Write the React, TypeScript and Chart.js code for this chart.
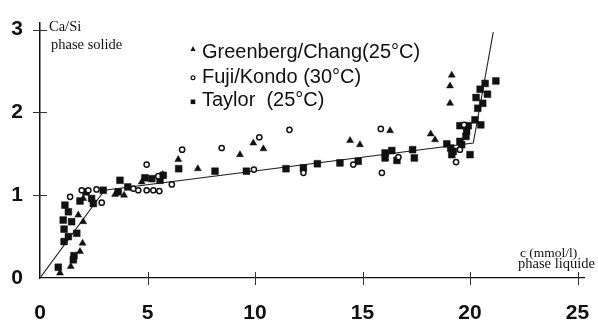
import { useEffect, useRef } from "react";
import { Chart, registerables } from "chart.js";

Chart.register(...registerables);

// ---- Data ----
const xTickValues = [0, 5, 10, 15, 20, 25];
const yTickValues = [0, 1, 2, 3];

const legendLabels = ["Greenberg/Chang(25°C)", "Fuji/Kondo (30°C)", "Taylor  (25°C)"];
const yTitleLines = ["Ca/Si", "phase solide"];
const xTitleLines = ["c (mmol/l)", "phase liquide"];

// Greenberg/Chang (25°C) – filled triangles  [c, Ca/Si]
const greenbergPoints: [number, number][] = [
  [0.93, 0.06], [1.43, 0.14], [1.86, 0.32], [1.98, 0.42], [1.78, 0.76], [2.01, 0.68],
  [2.01, 0.96], [3.49, 1.01], [3.91, 1.0], [4.73, 1.16], [5.71, 1.25], [6.43, 1.43],
  [7.34, 1.32], [9.3, 1.49], [9.92, 1.63], [10.39, 1.56], [14.42, 1.66], [14.88, 1.61],
  [16.28, 1.78], [18.17, 1.74], [18.37, 1.67], [19.07, 2.11], [19.07, 2.32], [19.15, 2.45],
];

// Fuji/Kondo (30°C) – open circles
const fujiPoints: [number, number][] = [
  [1.4, 0.98], [1.94, 1.06], [2.25, 1.06], [2.63, 1.07], [2.87, 0.91], [4.34, 1.08],
  [4.57, 1.06], [4.96, 1.06], [5.27, 1.06], [5.55, 1.05], [6.13, 1.13], [5.5, 1.23],
  [4.96, 1.37], [6.61, 1.55], [8.45, 1.57], [10.2, 1.7], [11.6, 1.79], [9.95, 1.31],
  [12.25, 1.27], [14.57, 1.37], [15.85, 1.8], [15.9, 1.27], [16.67, 1.46], [19.35, 1.4],
  [19.72, 1.85], [19.53, 1.55],
];

// Taylor (25°C) – filled squares
const taylorPoints: [number, number][] = [
  [0.85, 0.13], [1.12, 0.44], [1.32, 0.5], [1.12, 0.59], [1.08, 0.7], [1.47, 0.68],
  [1.71, 0.54], [1.32, 0.8], [1.16, 0.88], [1.55, 0.22], [1.58, 0.27], [1.86, 0.93],
  [2.14, 1.04], [2.4, 0.96], [2.48, 0.9], [2.94, 1.06], [3.64, 1.04], [3.72, 1.18],
  [4.08, 1.1], [4.88, 1.21], [5.2, 1.2], [5.58, 1.18], [5.73, 1.24], [6.45, 1.32],
  [8.14, 1.29], [9.6, 1.29], [11.44, 1.32], [12.25, 1.33], [12.9, 1.38], [13.95, 1.39],
  [14.8, 1.41], [16.05, 1.51], [16.05, 1.45], [16.36, 1.54], [16.6, 1.42], [17.33, 1.55],
  [17.41, 1.45], [18.92, 1.62], [19.1, 1.57], [19.22, 1.53], [19.15, 1.49], [19.61, 1.61],
  [19.53, 1.65], [19.53, 1.84], [19.92, 1.84], [19.84, 1.77], [19.81, 1.71], [20.0, 1.49],
  [20.23, 1.91], [20.5, 1.85], [20.36, 2.05], [20.59, 2.11], [20.28, 2.18], [20.81, 2.22],
  [20.47, 2.28], [20.7, 2.35], [21.2, 2.38],
];

// Fitted line (piecewise)
const fitLine: [number, number][] = [
  [0, 0], [3.0, 1.06], [20.15, 1.63], [21.08, 2.97],
];

const toXY = (pts: [number, number][]) => pts.map(([x, y]) => ({ x, y }));

const INK = "#111";

const decorations = {
  id: "decorations",
  afterDraw(chart: any) {
    const { ctx } = chart;
    const xs = chart.scales.x;
    const ys = chart.scales.y;
    ctx.save();

    // tick marks crossing the axes
    ctx.strokeStyle = "#333";
    ctx.lineWidth = 1;
    const y0 = ys.getPixelForValue(0);
    const x0 = xs.getPixelForValue(0);
    xs.ticks.forEach((t: any) => {
      if (t.value === 0) return;
      const px = Math.round(xs.getPixelForValue(t.value)) + 0.5;
      ctx.beginPath();
      ctx.moveTo(px, y0 - 6);
      ctx.lineTo(px, y0 + 7);
      ctx.stroke();
    });
    ys.ticks.forEach((t: any) => {
      if (t.value === 0) return;
      const py = Math.round(ys.getPixelForValue(t.value)) + 0.5;
      ctx.beginPath();
      ctx.moveTo(x0 - 7, py);
      ctx.lineTo(x0 + 7, py);
      ctx.stroke();
    });

    // axis titles
    ctx.fillStyle = INK;
    ctx.textAlign = "left";
    ctx.textBaseline = "alphabetic";
    ctx.font = '14.5px "Liberation Serif", "Times New Roman", serif';
    ctx.fillText(yTitleLines[0], 49, 30.5);
    ctx.fillText(yTitleLines[1], 51, 48.5);
    ctx.font = '13.5px "Liberation Serif", "Times New Roman", serif';
    ctx.fillText(xTitleLines[0], 520, 257);
    ctx.font = '14.5px "Liberation Serif", "Times New Roman", serif';
    ctx.fillText(xTitleLines[1], 518, 268);

    // legend
    const lx = 193;
    const rows = [52.7, 77.3, 100.5];
    ctx.font = '20px "Liberation Sans", Arial, sans-serif';
    ctx.textBaseline = "middle";
    legendLabels.forEach((label, i) => {
      ctx.fillText(label, 202, rows[i]);
    });
    ctx.fillStyle = INK;
    ctx.strokeStyle = INK;
    ctx.beginPath();
    ctx.moveTo(lx, 46);
    ctx.lineTo(lx + 2.6, 51);
    ctx.lineTo(lx - 2.6, 51);
    ctx.closePath();
    ctx.fill();
    ctx.lineWidth = 1.2;
    ctx.beginPath();
    ctx.arc(lx, 77.7, 1.9, 0, Math.PI * 2);
    ctx.stroke();
    ctx.fillRect(lx - 2.3, 99.5, 4.6, 4.6);
    ctx.restore();
  },
};

export default function App() {
  const canvasRef = useRef<HTMLCanvasElement | null>(null);

  useEffect(() => {
    document.body.style.margin = "0";
    const canvas = canvasRef.current;
    if (!canvas) return;
    const chart = new Chart(canvas, {
      type: "scatter",
      data: {
        datasets: [
          { label: legendLabels[0], data: toXY(greenbergPoints), pointStyle: "triangle", pointRadius: 4, backgroundColor: INK, borderColor: INK, borderWidth: 0.5 },
          { label: legendLabels[1], data: toXY(fujiPoints), pointStyle: "circle", pointRadius: 2.6, backgroundColor: "#fff", borderColor: INK, borderWidth: 1.5 },
          { label: legendLabels[2], data: toXY(taylorPoints), pointStyle: "rect", pointRadius: 4.8, backgroundColor: INK, borderColor: INK, borderWidth: 0.5 },
          { label: "fit", data: toXY(fitLine), showLine: true, pointRadius: 0, borderColor: "#222", borderWidth: 1.1, fill: false } as any,
        ],
      },
      options: {
        animation: false,
        responsive: false,
        events: [],
        layout: { padding: { top: 23, right: 14, left: 0, bottom: 0 }, autoPadding: false },
        plugins: { legend: { display: false }, tooltip: { enabled: false }, title: { display: false } },
        scales: {
          x: {
            type: "linear", min: 0, max: 25.3,
            afterFit: (s: any) => { s.height = 42; },
            afterBuildTicks: (s: any) => { s.ticks = xTickValues.map((v) => ({ value: v })); },
            grid: { display: false, drawTicks: true, tickLength: 23 },
            border: { display: true, color: INK, width: 1.2 },
            ticks: { padding: 0, color: INK, font: { family: '"Liberation Sans", Arial, sans-serif', size: 21, weight: "bold" }, maxRotation: 0 },
          },
          y: {
            type: "linear", min: 0, max: 3.08,
            afterFit: (s: any) => { s.width = 40; },
            afterBuildTicks: (s: any) => { s.ticks = yTickValues.map((v) => ({ value: v })); },
            grid: { display: false, drawTicks: true, tickLength: 17 },
            border: { display: true, color: INK, width: 1.5 },
            ticks: { padding: 0, color: INK, font: { family: '"Liberation Sans", Arial, sans-serif', size: 21, weight: "bold" } },
          },
        },
      },
      plugins: [decorations],
    });
    return () => chart.destroy();
  }, []);

  return (
    <div style={{ position: "absolute", left: 0, top: 0, width: 598, height: 320, background: "#fff" }}>
      <canvas ref={canvasRef} width={598} height={320} style={{ width: 598, height: 320, display: "block" }} />
    </div>
  );
}
